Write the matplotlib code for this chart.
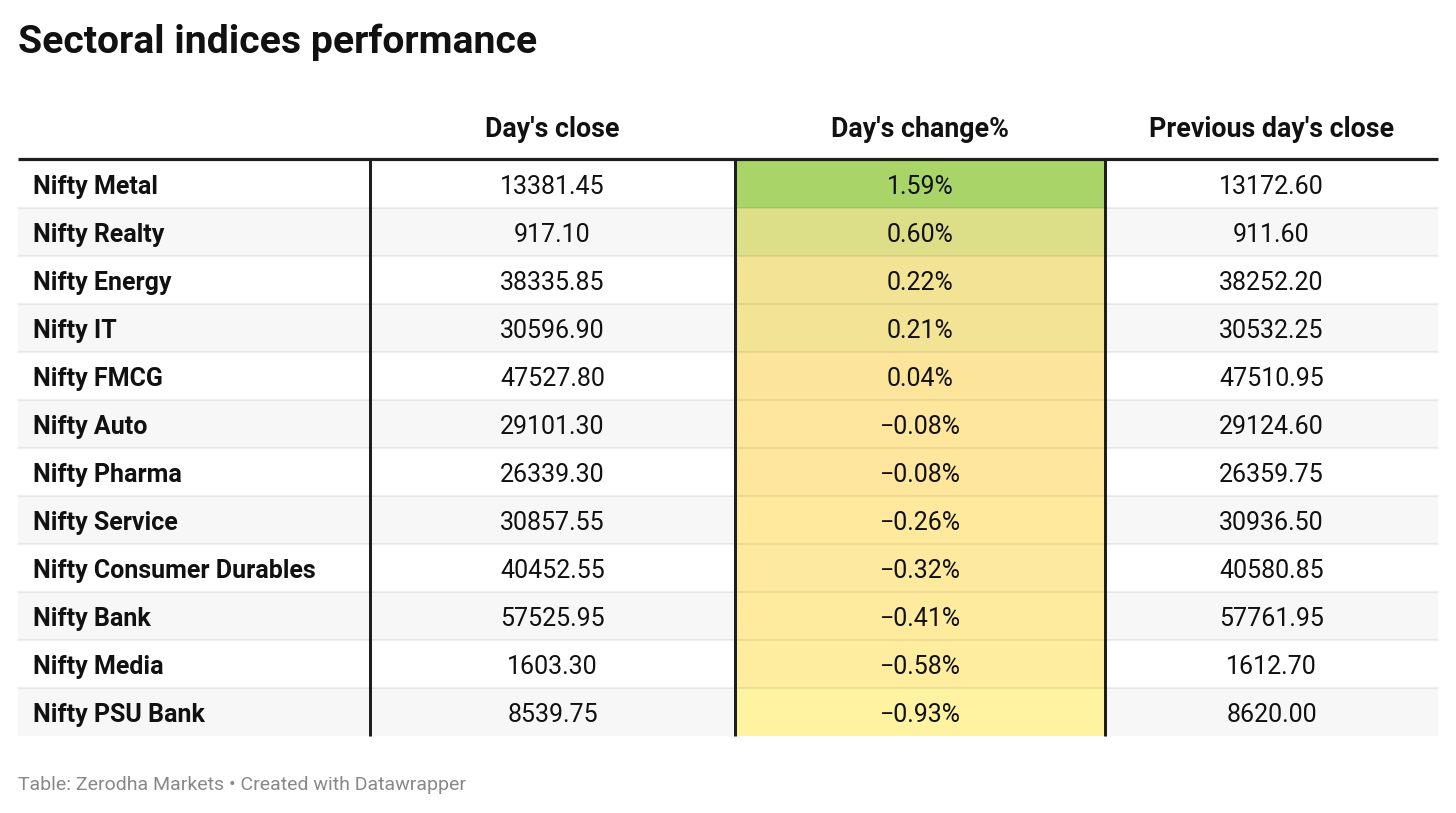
import matplotlib
matplotlib.use("Agg")
import matplotlib.pyplot as plt
from matplotlib.colors import LinearSegmentedColormap, TwoSlopeNorm
from matplotlib.patches import Rectangle

plt.rcParams['font.family'] = ['Roboto', 'DejaVu Sans']

# Données
indices = ["Nifty Metal", "Nifty Realty", "Nifty Energy", "Nifty IT", "Nifty FMCG",
           "Nifty Auto", "Nifty Pharma", "Nifty Service", "Nifty Consumer Durables",
           "Nifty Bank", "Nifty Media", "Nifty PSU Bank"]
days_close = [13381.45, 917.10, 38335.85, 30596.90, 47527.80, 29101.30,
              26339.30, 30857.55, 40452.55, 57525.95, 1603.30, 8539.75]
change_pct = [1.59, 0.60, 0.22, 0.21, 0.04, -0.08, -0.08, -0.26, -0.32, -0.41, -0.58, -0.93]
prev_close = [13172.60, 911.60, 38252.20, 30532.25, 47510.95, 29124.60,
              26359.75, 30936.50, 40580.85, 57761.95, 1612.70, 8620.00]
headers = ["Day's close", "Day's change%", "Previous day's close"]

W, H = 1456, 813
fig = plt.figure(figsize=(W / 100, H / 100), dpi=100)
ax = fig.add_axes([0, 0, 1, 1])
ax.set_xlim(0, W)
ax.set_ylim(H, 0)
ax.axis('off')

px = 0.72  # 1 pixel en points

# Géométrie du tableau
left, right = 18, 1438
top, row_h = 160, 48
col_edges = [left, 370, 735, 1105, right]
centers = [(col_edges[i] + col_edges[i + 1]) / 2 for i in range(1, 4)]
n = len(indices)
bottom = top + n * row_h

# Échelle de couleur divergente pour la variation
cmap = LinearSegmentedColormap.from_list(
    "chg", [(0.0, "#fff2a1"), (0.5, "#fee59c"), (1.0, "#a8d468")])
norm = TwoSlopeNorm(vmin=min(change_pct), vcenter=0, vmax=max(change_pct))

def fmt(v):
    s = f"{abs(v):.2f}"
    return ("\u2212" + s) if v < 0 else s

for i in range(n):
    y0 = top + i * row_h
    bg = "#ffffff" if i % 2 == 0 else "#f7f7f7"
    ax.add_patch(Rectangle((left, y0), right - left, row_h, color=bg, lw=0, zorder=0))
    ax.add_patch(Rectangle((col_edges[2], y0), col_edges[3] - col_edges[2], row_h,
                           color=cmap(norm(change_pct[i])), lw=0, zorder=1))
    if i > 0:
        ax.plot([left, right], [y0, y0], color="black", alpha=0.09, lw=1.5 * px, zorder=2)
    yb = y0 + 34
    ax.text(33, yb, indices[i], fontsize=18, fontweight='bold', color="#111111",
            va='baseline', ha='left', zorder=3)
    ax.text(centers[0], yb, fmt(days_close[i]), fontsize=18, color="#111111",
            va='baseline', ha='center', zorder=3)
    ax.text(centers[1], yb, fmt(change_pct[i]) + "%", fontsize=18, color="#111111",
            va='baseline', ha='center', zorder=3)
    ax.text(centers[2], yb, fmt(prev_close[i]), fontsize=18, color="#111111",
            va='baseline', ha='center', zorder=3)

# Lignes verticales et ligne d'en-tête
for x in col_edges[1:4]:
    ax.plot([x, x], [top, bottom], color="#1e1e1e", lw=3 * px, zorder=4,
            solid_capstyle='butt')
ax.plot([left, right], [top - 1, top - 1], color="#1e1e1e", lw=3.2 * px, zorder=5,
        solid_capstyle='butt')

# En-têtes
for c, h in zip(centers, headers):
    ax.text(c, 137, h, fontsize=19.3, fontweight='bold', color="#111111",
            ha='center', va='baseline')

# Titre et source
ax.text(18, 53, "Sectoral indices performance", fontsize=28.2, fontweight='bold',
        color="#111111", ha='left', va='baseline')
ax.text(18, 790, "Table: Zerodha Markets \u2022 Created with Datawrapper", fontsize=14,
        color="#888888", ha='left', va='baseline')

fig.savefig("out.png", dpi=100)
